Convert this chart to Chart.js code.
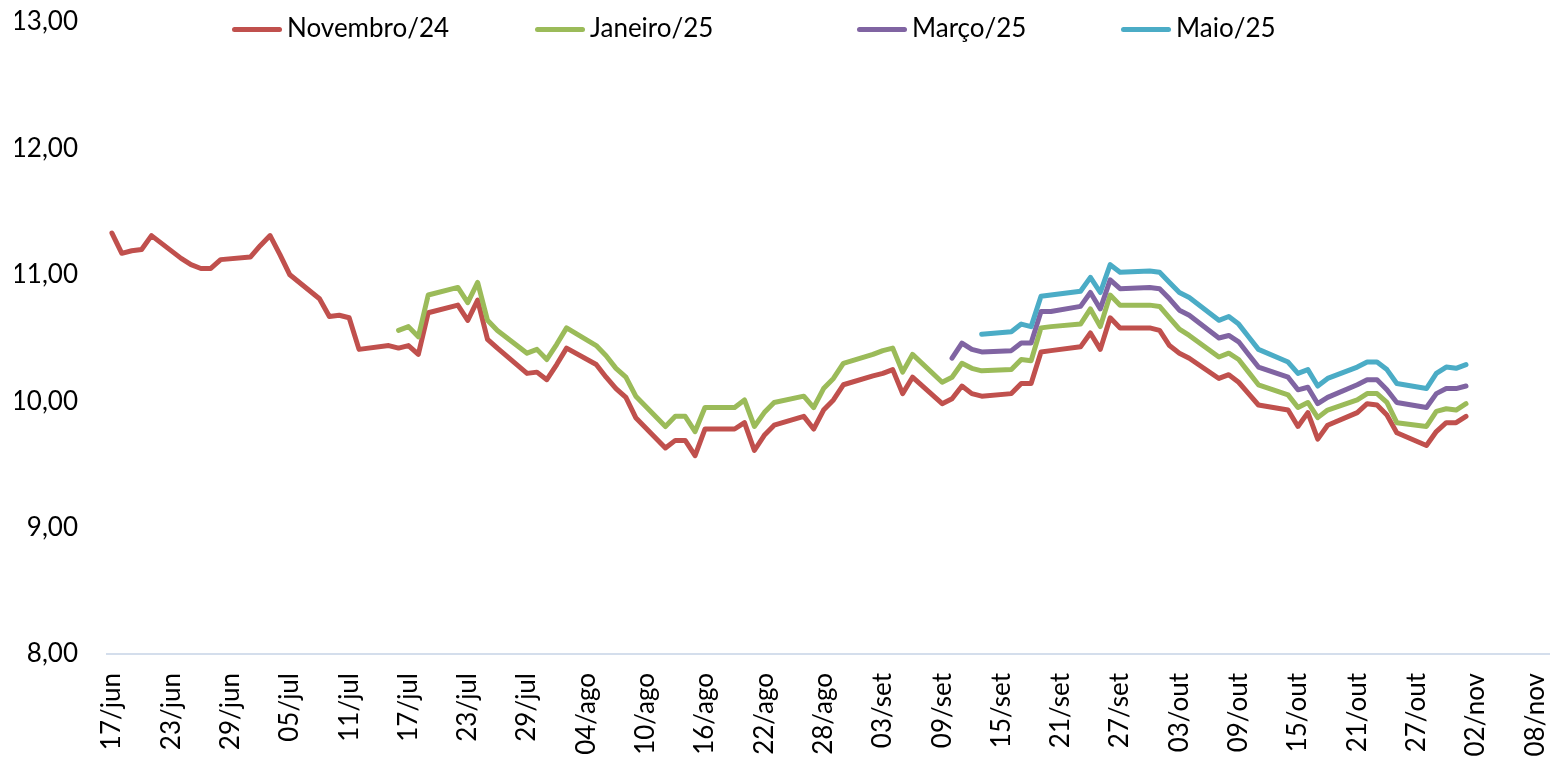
<!DOCTYPE html>
<html>
<head>
<meta charset="utf-8">
<script src="https://cdn.jsdelivr.net/npm/chart.js@4.4.1/dist/chart.umd.min.js"></script>
<style>
  body { margin: 0; background: #fff; }
  #wrap { position: relative; width: 1550px; height: 757px; }
  #legend { position: absolute; left: 0; top: 0; width: 1550px; height: 50px; font-family: Lato, sans-serif; font-size: 26px; color: #000; }
  .item { position: absolute; top: 11px; height: 32px; line-height: 32px; white-space: nowrap; }
  .swatch { display: inline-block; width: 50px; height: 5px; border-radius: 3px; vertical-align: middle; margin-right: 5px; position: relative; top: -1px; }
</style>
</head>
<body>
<div id="wrap">
  <canvas id="mycanvas" width="1550" height="757"></canvas>
  <div id="legend"></div>
</div>
<script>
// business days (ISO)
var dates = [
  '2024-06-17','2024-06-18','2024-06-19','2024-06-20','2024-06-21',
  '2024-06-24','2024-06-25','2024-06-26','2024-06-27','2024-06-28',
  '2024-07-01','2024-07-02','2024-07-03','2024-07-04','2024-07-05',
  '2024-07-08','2024-07-09','2024-07-10','2024-07-11','2024-07-12',
  '2024-07-15','2024-07-16','2024-07-17','2024-07-18','2024-07-19',
  '2024-07-22','2024-07-23','2024-07-24','2024-07-25','2024-07-26',
  '2024-07-29','2024-07-30','2024-07-31','2024-08-01','2024-08-02',
  '2024-08-05','2024-08-06','2024-08-07','2024-08-08','2024-08-09',
  '2024-08-12','2024-08-13','2024-08-14','2024-08-15','2024-08-16',
  '2024-08-19','2024-08-20','2024-08-21','2024-08-22','2024-08-23',
  '2024-08-26','2024-08-27','2024-08-28','2024-08-29','2024-08-30',
  '2024-09-02','2024-09-03','2024-09-04','2024-09-05','2024-09-06',
  '2024-09-09','2024-09-10','2024-09-11','2024-09-12','2024-09-13',
  '2024-09-16','2024-09-17','2024-09-18','2024-09-19','2024-09-20',
  '2024-09-23','2024-09-24','2024-09-25','2024-09-26','2024-09-27',
  '2024-09-30','2024-10-01','2024-10-02','2024-10-03','2024-10-04',
  '2024-10-07','2024-10-08','2024-10-09','2024-10-10','2024-10-11',
  '2024-10-14','2024-10-15','2024-10-16','2024-10-17','2024-10-18',
  '2024-10-21','2024-10-22','2024-10-23','2024-10-24','2024-10-25',
  '2024-10-28','2024-10-29','2024-10-30','2024-10-31','2024-11-01'
];

var novembro24 = [
  11.33, 11.17, 11.19, 11.20, 11.31, 11.13, 11.08, 11.05, 11.05, 11.12,
  11.14, 11.23, 11.31, 11.16, 11.00, 10.81, 10.67, 10.68, 10.66, 10.41,
  10.44, 10.42, 10.44, 10.37, 10.70, 10.76, 10.64, 10.80, 10.49, 10.42,
  10.22, 10.23, 10.17, 10.29, 10.42, 10.29, 10.19, 10.10, 10.03, 9.87,
  9.63, 9.69, 9.69, 9.57, 9.78, 9.78, 9.83, 9.61, 9.73, 9.81,
  9.88, 9.78, 9.93, 10.01, 10.13, 10.20, 10.22, 10.25, 10.06, 10.19,
  9.98, 10.02, 10.12, 10.06, 10.04, 10.06, 10.14, 10.14, 10.39, 10.40,
  10.43, 10.54, 10.41, 10.66, 10.58, 10.58, 10.56, 10.44, 10.38, 10.34,
  10.18, 10.21, 10.15, 10.06, 9.97, 9.93, 9.80, 9.91, 9.70, 9.81,
  9.91, 9.98, 9.97, 9.89, 9.75, 9.65, 9.76, 9.83, 9.83, 9.88
];

// from 16/jul
var janeiro25 = [
  10.56, 10.59, 10.51, 10.84, 10.90, 10.78, 10.94, 10.64, 10.56,
  10.38, 10.41, 10.33, 10.45, 10.58, 10.44, 10.36, 10.26, 10.19, 10.04,
  9.80, 9.88, 9.88, 9.76, 9.95, 9.95, 10.01, 9.80, 9.91, 9.99,
  10.04, 9.95, 10.10, 10.18, 10.30, 10.37, 10.40, 10.42, 10.23, 10.37,
  10.15, 10.19, 10.30, 10.26, 10.24, 10.25, 10.33, 10.32, 10.58, 10.59,
  10.61, 10.73, 10.59, 10.84, 10.76, 10.76, 10.75, 10.66, 10.57, 10.52,
  10.35, 10.38, 10.33, 10.23, 10.13, 10.05, 9.95, 9.99, 9.87, 9.93,
  10.01, 10.06, 10.06, 9.99, 9.83, 9.80, 9.92, 9.94, 9.93, 9.98
];

// from 10/set
var marco25 = [
  10.34, 10.46, 10.41, 10.39, 10.40, 10.46, 10.46, 10.71, 10.71,
  10.75, 10.86, 10.73, 10.96, 10.89, 10.90, 10.89, 10.81, 10.72, 10.68,
  10.50, 10.52, 10.47, 10.37, 10.27, 10.19, 10.09, 10.11, 9.98, 10.03,
  10.13, 10.17, 10.17, 10.09, 9.99, 9.95, 10.06, 10.10, 10.10, 10.12
];

// from 13/set
var maio25 = [
  10.53, 10.55, 10.61, 10.59, 10.83, 10.84,
  10.87, 10.98, 10.86, 11.08, 11.02, 11.03, 11.02, 10.94, 10.86, 10.82,
  10.64, 10.67, 10.61, 10.51, 10.41, 10.31, 10.22, 10.25, 10.12, 10.18,
  10.27, 10.31, 10.31, 10.25, 10.14, 10.10, 10.22, 10.27, 10.26, 10.29
];

var seriesNames = ['Novembro/24', 'Janeiro/25', 'Março/25', 'Maio/25'];
var seriesStart = ['2024-06-17', '2024-07-16', '2024-09-10', '2024-09-13'];
var seriesValues = [novembro24, janeiro25, marco25, maio25];
var seriesColors = ['#C0504D', '#9BBB59', '#8064A2', '#4BACC6'];

var xTickLabels = ['17/jun','23/jun','29/jun','05/jul','11/jul','17/jul','23/jul','29/jul',
  '04/ago','10/ago','16/ago','22/ago','28/ago','03/set','09/set','15/set','21/set','27/set',
  '03/out','09/out','15/out','21/out','27/out','02/nov','08/nov'];

var legendLeft = [232, 535, 857, 1121];

var DAY = 86400000;
var origin = Date.UTC(2024, 5, 17);
var monthIdx = { jun: 5, jul: 6, ago: 7, set: 8, out: 9, nov: 10 };

function dayOf(iso) {
    var p = iso.split('-');
    return (Date.UTC(+p[0], +p[1] - 1, +p[2]) - origin) / DAY;
}
function dayOfLabel(lbl) {
    var p = lbl.split('/');
    return (Date.UTC(2024, monthIdx[p[1]], +p[0]) - origin) / DAY;
}

var tickDays = xTickLabels.map(dayOfLabel);
var labelByDay = {};
tickDays.forEach(function(d, k) { labelByDay[d] = xTickLabels[k]; });

var datasets = seriesValues.map(function(vals, s) {
    var first = dates.indexOf(seriesStart[s]);
    var pts = [];
    for (var i = 0; i < vals.length; i++) {
        pts.push({ x: dayOf(dates[first + i]), y: vals[i] });
    }
    return {
        label: seriesNames[s],
        data: pts,
        borderColor: seriesColors[s],
        backgroundColor: seriesColors[s],
        borderWidth: 5,
        pointRadius: 0,
        tension: 0,
        fill: false,
        borderJoinStyle: 'round',
        borderCapStyle: 'round',
        order: seriesValues.length - s
    };
});

Chart.defaults.font.family = 'Lato';
Chart.defaults.font.size = 26;
Chart.defaults.color = '#000';

var ctx = document.getElementById('mycanvas');
var myChart = new Chart(ctx, {
    type: 'line',
    data: { datasets: datasets },
    options: {
        responsive: false,
        animation: false,
        layout: { padding: { left: 15, top: 22, right: 0, bottom: 0 } },
        plugins: { legend: { display: false }, tooltip: { enabled: false } },
        scales: {
            x: {
                type: 'linear',
                min: -0.5,
                max: 145.5,
                grid: { display: false, drawTicks: false },
                border: { display: true, color: '#D4DEEC', width: 2 },
                afterBuildTicks: function(s) {
                    s.ticks = tickDays.map(function(d) { return { value: d }; });
                },
                afterFit: function(s) {
                    s.height = 103;
                    s.paddingLeft = 0;
                    s.paddingRight = 0;
                },
                ticks: {
                    autoSkip: false,
                    minRotation: 90,
                    maxRotation: 90,
                    padding: 19,
                    font: { size: 26 },
                    callback: function(v) { return labelByDay[v]; }
                }
            },
            y: {
                min: 8,
                max: 13,
                grid: { display: false, drawTicks: false },
                border: { display: false },
                afterFit: function(s) {
                    s.width = 92;
                    s.paddingTop = 0;
                    s.paddingBottom = 0;
                },
                ticks: {
                    stepSize: 1,
                    padding: 29,
                    callback: function(v) { return v.toFixed(2).replace('.', ','); }
                }
            }
        }
    }
});

var legend = document.getElementById('legend');
seriesNames.forEach(function(name, s) {
    var item = document.createElement('div');
    item.className = 'item';
    item.style.left = legendLeft[s] + 'px';
    item.innerHTML = '<span class="swatch" style="background:' + seriesColors[s] + '"></span>' + name;
    legend.appendChild(item);
});
</script>
</body>
</html>
